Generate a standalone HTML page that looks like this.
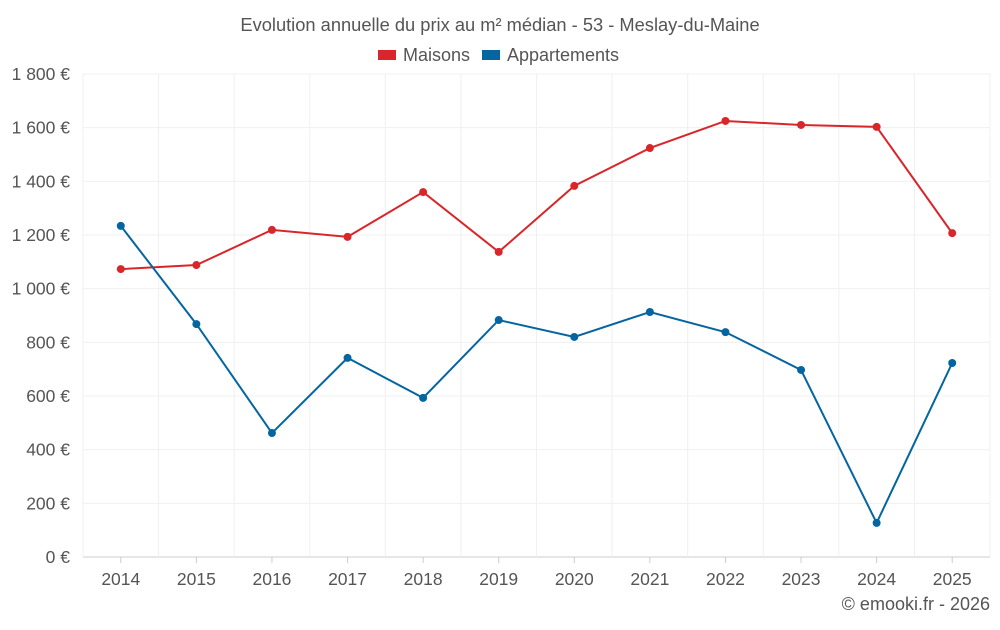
<!DOCTYPE html>
<html><head><meta charset="utf-8"><style>
body{margin:0;background:#fff;font-family:"Liberation Sans",sans-serif;}
svg text{font-family:"Liberation Sans",sans-serif;fill:#555;}
</style></head><body>
<svg id="chart" width="1000" height="625">
<text x="500" y="31" text-anchor="middle" font-size="18.3">Evolution annuelle du prix au m² médian - 53 - Meslay-du-Maine</text>
<g>
<g><rect x="378" y="50" width="18" height="10" fill="#d9262b"/><text x="403" y="61" font-size="18">Maisons</text></g>
<g><rect x="482" y="50" width="18" height="10" fill="#0465a0"/><text x="507" y="61" font-size="18">Appartements</text></g>
</g>
<g id="grid"></g><g id="axes"></g><g id="series"></g>
<text x="990" y="610" text-anchor="end" font-size="18">© emooki.fr - 2026</text>
</svg>
<script>
const years=["2014","2015","2016","2017","2018","2019","2020","2021","2022","2023","2024","2025"];
const maisons=[1073,1088,1219,1193,1360,1137,1383,1524,1625,1610,1603,1207];
const appartements=[1234,868,462,742,593,883,820,913,838,697,127,723];
const yTicks=[0,200,400,600,800,1000,1200,1400,1600,1800];
const yTickLabels=["0 €","200 €","400 €","600 €","800 €","1 000 €","1 200 €","1 400 €","1 600 €","1 800 €"];
const L=83,R=990,T=74,B=557,ymax=1800;
const bw=(R-L)/years.length;
const xs=i=>L+bw*(i+0.5);
const ys=v=>B-(v/ymax)*(B-T);
const NS="http://www.w3.org/2000/svg";
function mk(tag,attrs,parent){const e=document.createElementNS(NS,tag);for(const k in attrs)e.setAttribute(k,attrs[k]);parent.appendChild(e);return e;}
const grid=document.getElementById('grid'),axes=document.getElementById('axes'),ser=document.getElementById('series');
yTicks.forEach((t,i)=>{
 const l=mk('line',{x1:L,x2:R,y1:ys(t),y2:ys(t),stroke:i==0?'#ccc':'#f0f0f0'},grid);
 
 
 const tx=mk('text',{x:L-13,y:ys(t)+6,'text-anchor':'end','font-size':17.5},axes);
 tx.textContent=yTickLabels[i];
 
 
});
for(let i=0;i<=years.length;i++){
 const l=mk('line',{x1:L+bw*i,x2:L+bw*i,y1:T,y2:B,stroke:'#f0f0f0'},grid);
 
 
}
years.forEach((y,i)=>{
 const tk=mk('line',{x1:xs(i),x2:xs(i),y1:B,y2:B+6,stroke:'#ccc'},axes);
 
 
 const tx=mk('text',{x:xs(i),y:B+28,'text-anchor':'middle','font-size':17.5},axes);
 tx.textContent=y;
 
 
});
function draw(vals,color,name){
 const p=mk('polyline',{points:vals.map((v,i)=>xs(i)+','+ys(v)).join(' '),fill:'none',stroke:color,'stroke-width':2},ser);
 
 
 vals.forEach((v,i)=>{
  const c=mk('circle',{cx:xs(i),cy:ys(v),r:4,fill:color},ser);
  
  
 });
}
draw(maisons,'#d9262b','maisons');
draw(appartements,'#0465a0','appartements');
</script>
</body></html>
